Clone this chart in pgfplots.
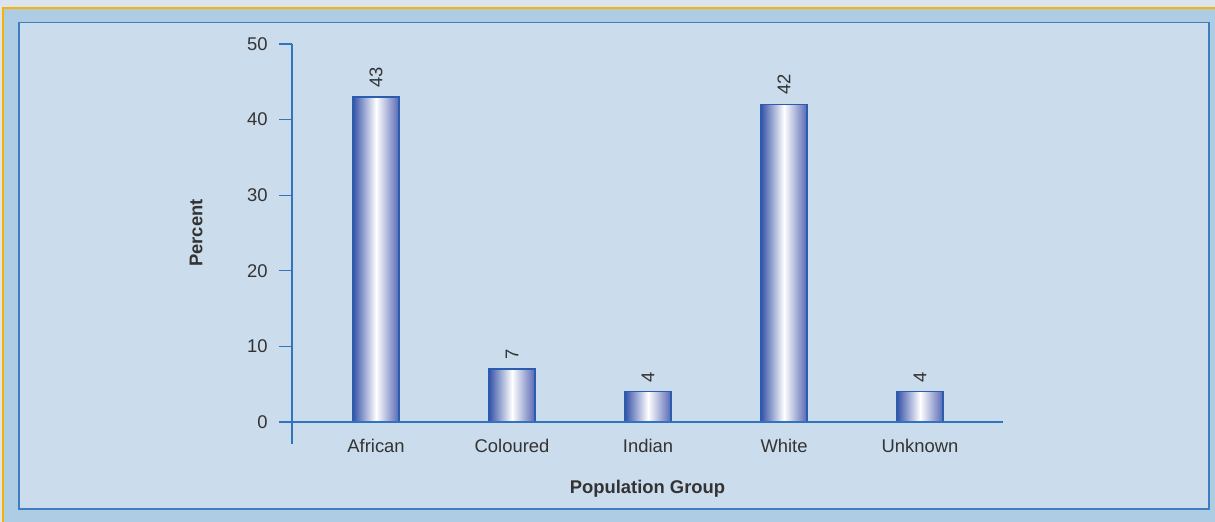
\documentclass[border=0pt]{standalone}
\usepackage{pgfplots}
\pgfplotsset{compat=1.18}
\usepackage{fontspec}
\setmainfont{Liberation Sans}
\definecolor{topbg}{HTML}{DCE5EF}
\definecolor{yel}{HTML}{F5B400}
\definecolor{band}{HTML}{AECCE3}
\definecolor{inner}{HTML}{CBDCEC}
\definecolor{frameblue}{HTML}{3D7EC1}
\definecolor{axisblue}{HTML}{2F74BD}
\definecolor{barL}{HTML}{3854A8}
\definecolor{barR}{HTML}{5868B3}
\definecolor{barEdge}{HTML}{2A5DAE}
\definecolor{txt}{HTML}{333333}
\begin{document}
\begin{tikzpicture}
% background (1px = 0.5pt)
\fill[topbg] (0,0) rectangle (607.5pt,-261pt);
\fill[band] (1.5pt,-4pt) rectangle (607.5pt,-261pt);
\draw[yel, line width=0.8pt] (1.5pt,-261pt) -- (1.5pt,-4pt) -- (607.5pt,-4pt);
\draw[frameblue, fill=inner, line width=0.7pt] (9.5pt,-11.2pt) rectangle (604.5pt,-254.5pt);
\begin{axis}[
  at={(146pt,-211pt)}, anchor=south west,
  scale only axis, width=355.5pt, height=189pt,
  xmin=-0.618, xmax=4.61, ymin=0, ymax=50,
  clip=false,
  axis x line*=bottom, axis y line*=left,
  axis line style={draw=none},
  xtick={0,1,2,3,4},
  xticklabels={African,Coloured,Indian,White,Unknown},
  xtick style={draw=none},
  ytick={0,10,20,30,40,50},
  ytick style={draw=axisblue, line width=0.6pt},
  tick align=outside, major tick length=6.5pt,
  /pgf/number format/assume math mode=true,
  tick label style={font=\fontsize{9.2}{11}\selectfont, text=txt},
  xticklabel style={anchor=north, inner sep=0pt, yshift=-2pt},
  yticklabel style={anchor=east, inner sep=0pt, xshift=-5.5pt},
  xlabel={Population Group}, ylabel={Percent},
  every axis x label/.style={at={(axis description cs:0.5,-0.177)}, anchor=center, font=\fontsize{9.2}{11}\selectfont\bfseries, text=txt},
  every axis y label/.style={at={(axis description cs:-0.135,0.5)}, anchor=center, rotate=90, font=\fontsize{9.2}{11}\selectfont\bfseries, text=txt},
  nodes near coords,
  every node near coord/.append style={rotate=90, anchor=west, inner xsep=4.5pt, inner ysep=0pt, font=\fontsize{9.2}{11}\selectfont, text=txt},
  barstyle/.style={ybar, bar shift=0pt, bar width=23pt, draw=barEdge, line width=0.6pt,
    left color=barL, right color=barR, middle color=white},
]
\addplot[barstyle] coordinates {(0,43)};
\addplot[barstyle] coordinates {(1,7)};
\addplot[barstyle] coordinates {(2,4)};
\addplot[barstyle] coordinates {(3,42)};
\addplot[barstyle] coordinates {(4,4)};
\draw[axisblue, line width=0.7pt] ([xshift=-6.5pt]rel axis cs:0,0) -- (rel axis cs:1,0);
\draw[axisblue, line width=0.7pt] (rel axis cs:0,1) -- ([yshift=-11pt]rel axis cs:0,0);
\end{axis}
\pgfresetboundingbox
\path (0,0) rectangle (607.5pt,-261pt);
\end{tikzpicture}
\end{document}
